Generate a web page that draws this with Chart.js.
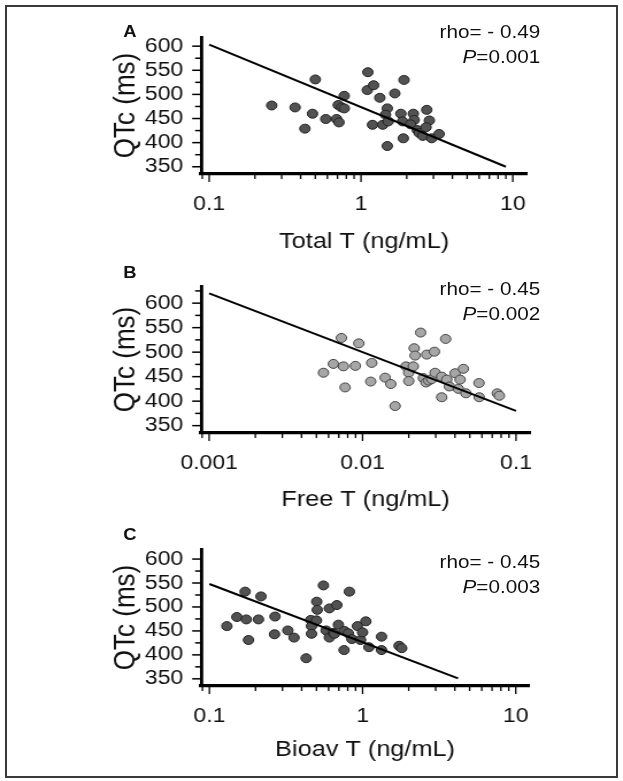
<!DOCTYPE html>
<html>
<head>
<meta charset="utf-8">
<script src="https://cdn.jsdelivr.net/npm/chart.js@4.4.1/dist/chart.umd.min.js"></script>
<style>
  body { margin: 0; background: #fff; width: 623px; height: 781px; overflow: hidden; position: relative; }
  #frame { position: absolute; left: 5px; top: 5px; width: 613px; height: 773px; box-sizing: border-box; border: 2px solid #3a3a3a; }
  #wrap { position: absolute; left: 0; top: 0; width: 542px; height: 781px; transform: scaleX(1.1494); transform-origin: 0 0;
          font-family: "Liberation Sans", Arial, sans-serif; color: #111; }
  #wrap canvas { position: absolute; left: 0; }
  .letter { position: absolute; font-weight: bold; font-size: 16px; transform: translate(-50%, -50%); }
  .stat { position: absolute; right: 72px; text-align: right; font-size: 18px; line-height: 25px; white-space: nowrap; }
</style>
</head>
<body>
<div id="frame"></div>
<div id="wrap">
  <canvas id="chartA" width="542" height="260" style="top:0px"></canvas>
  <canvas id="chartB" width="542" height="260" style="top:255px"></canvas>
  <canvas id="chartC" width="542" height="260" style="top:521px"></canvas>
  <div class="letter" style="left:113px; top:32px">A</div>
  <div class="letter" style="left:113px; top:273px">B</div>
  <div class="letter" style="left:113px; top:535px">C</div>
  <div class="stat" style="top:20px">rho= - 0.49<br><i>P</i>=0.001</div>
  <div class="stat" style="top:277px">rho= - 0.45<br><i>P</i>=0.002</div>
  <div class="stat" style="top:550px">rho= - 0.45<br><i>P</i>=0.003</div>
</div>
<script>
// horizontal stretch of the reference figure
const S = 1.1494;

// --- Panel A: Total T vs QTc
const totalT = [0.258, 0.368, 0.479, 0.427, 0.586, 0.69, 0.716, 0.708, 0.745, 0.776,
                0.775, 0.5, 1.10, 1.21, 1.33, 1.67, 1.92, 1.19, 1.39, 1.49,
                1.45, 1.51, 1.49, 1.83, 1.88, 1.9, 2.21, 2.24, 2.12, 2.35,
                2.42, 2.55, 2.71, 2.82, 2.68, 2.92, 3.27, 1.11];
const qtcA = [477, 473, 460, 429, 449, 449, 442, 478, 473, 471,
              497, 531, 509, 519, 493, 502, 530, 437, 437, 471,
              458, 444, 393, 460, 444, 409, 460, 447, 438, 426,
              420, 414, 468, 446, 432, 409, 418, 546];
const fitAx = [0.1, 9.0];
const fitAy = [603, 350];

// --- Panel B: Free T vs QTc
const freeT = [0.00556, 0.00645, 0.00728, 0.0075, 0.00769, 0.00898, 0.00945, 0.01147, 0.0113, 0.01403,
               0.01528, 0.0163, 0.0192, 0.01997, 0.02, 0.0214, 0.0217, 0.022, 0.0239, 0.0249,
               0.0259, 0.0262, 0.027, 0.0282, 0.0294, 0.0297, 0.0328, 0.0328, 0.0348, 0.0354,
               0.0368, 0.0401, 0.0432, 0.0454, 0.0421, 0.0472, 0.0574, 0.0576, 0.0755, 0.0779];
const qtcB = [458, 476, 529, 471, 428, 472, 518, 478, 440, 448,
              435, 390, 471, 458, 441, 471, 508, 493, 540, 447,
              438, 495, 442, 445, 501, 458, 408, 450, 527, 444,
              430, 457, 444, 466, 425, 416, 437, 408, 416, 411];
const fitBx = [0.001, 0.1];
const fitBy = [620, 380];

// --- Panel C: Bioav T vs QTc
const bioavT = [0.13, 0.151, 0.171, 0.174, 0.18, 0.209, 0.217, 0.268, 0.266, 0.325,
                0.357, 0.428, 0.459, 0.464, 0.464, 0.502, 0.506, 0.5, 0.555, 0.607,
                0.578, 0.607, 0.644, 0.679, 0.695, 0.655, 0.757, 0.76, 0.807, 0.82,
                0.851, 0.925, 0.97, 1.0, 1.05, 1.10, 1.33, 1.33, 1.73, 1.80];
const qtcC = [460, 479, 532, 474, 431, 474, 522, 480, 443, 451,
              436, 393, 473, 460, 444, 511, 494, 472, 545, 497,
              451, 436, 446, 504, 463, 444, 410, 450, 445, 532,
              433, 460, 431, 447, 470, 416, 438, 410, 419, 414];
const fitCx = [0.1, 4.2];
const fitCy = [548, 351];

// tick labels
const xTicksA = [0.1, 1, 10];
const xLabelsA = ['0.1', '1', '10'];
const xTicksB = [0.001, 0.01, 0.1];
const xLabelsB = ['0.001', '0.01', '0.1'];
const xTicksC = [0.1, 1, 10];
const xLabelsC = ['0.1', '1', '10'];
const yTicks = [350, 400, 450, 500, 550, 600];

const FONT = '"Liberation Sans", Arial, sans-serif';

// minor + major ticks for log axis
function logTicks(majors, min, max) {
  const out = [];
  const decades = [majors[0] / 10].concat(majors);
  decades.forEach(d => {
    for (let k = 1; k <= 9; k++) {
      const v = parseFloat((k * d).toPrecision(6));
      if (v >= min && v <= max) out.push(v);
    }
  });
  return out.sort((a, b) => a - b);
}
function linTicks(majors, min, max) {
  const out = [];
  for (let v = majors[0] - 25; v <= majors[majors.length - 1] + 25; v += 25) {
    if (v >= min && v <= max) out.push(v);
  }
  return out;
}

// short outward ticks, longer at labelled values
const tickMarks = {
  id: 'tickMarks',
  afterDraw(chart) {
    const ctx = chart.ctx, area = chart.chartArea;
    const xs = chart.scales.x, ys = chart.scales.y;
    ctx.save();
    ctx.strokeStyle = '#000';
    ctx.lineWidth = 1.3;
    xs.ticks.forEach(t => {
      const px = xs.getPixelForValue(t.value);
      ctx.beginPath();
      ctx.moveTo(px, area.bottom + 1);
      ctx.lineTo(px, area.bottom + (t.label ? 8 : 5));
      ctx.stroke();
    });
    ctx.lineWidth = 1.5;
    ys.ticks.forEach(t => {
      const py = ys.getPixelForValue(t.value);
      ctx.beginPath();
      ctx.moveTo(area.left, py);
      ctx.lineTo(area.left - (t.label ? 9 : 6) / S, py);
      ctx.stroke();
    });
    ctx.restore();
  }
};

function makePanel(id, xs, ys, fitX, fitY, xMajors, xLabels, xTitle, cfg) {
  const pts = xs.map((x, i) => ({ x: x, y: ys[i] }));
  const fit = fitX.map((x, i) => ({ x: x, y: fitY[i] }));
  const xt = logTicks(xMajors, cfg.xMin, cfg.xMax);
  const yt = linTicks(yTicks, cfg.yMin, cfg.yMax);

  new Chart(document.getElementById(id), {
    type: 'scatter',
    data: {
      datasets: [
        { data: fit, showLine: true, borderColor: '#000', borderWidth: 2, pointRadius: 0, fill: false },
        { data: pts, pointRadius: 4.5, pointBackgroundColor: cfg.fill, pointBorderColor: cfg.stroke, pointBorderWidth: 1 }
      ]
    },
    options: {
      responsive: false,
      animation: false,
      layout: { padding: { left: 0, right: cfg.padRight, top: cfg.padTop, bottom: cfg.padBottom } },
      plugins: { legend: { display: false }, tooltip: { enabled: false } },
      scales: {
        x: {
          type: 'logarithmic',
          min: cfg.xMin,
          max: cfg.xMax,
          afterBuildTicks: axis => { axis.ticks = xt.map(v => ({ value: v })); },
          afterFit: axis => { axis.height = 82; },
          grid: { display: true, drawOnChartArea: false, drawTicks: false },
          border: { display: true, color: '#000', width: 3.2 },
          ticks: {
            autoSkip: false, maxRotation: 0, padding: 18,
            color: '#111', font: { family: FONT, size: 20 },
            callback: v => {
              const i = xMajors.findIndex(m => Math.abs(m - v) / m < 1e-6);
              return i >= 0 ? xLabels[i] : '';
            }
          },
          title: { display: true, text: xTitle, color: '#111', font: { family: FONT, size: 22 },
                   padding: { top: 0, bottom: cfg.titlePad } }
        },
        y: {
          min: cfg.yMin,
          max: cfg.yMax,
          afterBuildTicks: axis => { axis.ticks = yt.map(v => ({ value: v })); },
          afterFit: axis => { axis.width = 175; },
          grid: { display: true, drawOnChartArea: false, drawTicks: false },
          border: { display: true, color: '#000', width: 2.8 },
          ticks: {
            autoSkip: false, padding: 15.6,
            color: '#111', font: { family: FONT, size: 20 },
            callback: v => (yTicks.includes(v) ? String(v) : '')
          },
          title: { display: true, text: 'QTc (ms)', color: '#111', font: { family: FONT, size: 26 },
                   padding: { top: 94, bottom: 0 } }
        }
      }
    },
    plugins: [tickMarks]
  });
}

makePanel('chartA', totalT, qtcA, fitAx, fitAy, xTicksA, xLabelsA, 'Total T (ng/mL)', {
  xMin: 0.0885, xMax: 12.4, yMin: 335, yMax: 619,
  padTop: 37, padBottom: 4, padRight: 83.5, titlePad: 0.8,
  fill: '#525252', stroke: '#222'
});
makePanel('chartB', freeT, qtcB, fitBx, fitBy, xTicksB, xLabelsB, 'Free T (ng/mL)', {
  xMin: 0.000887, xMax: 0.1234, yMin: 335, yMax: 635,
  padTop: 31, padBottom: 0, padRight: 80.9, titlePad: 1.8,
  fill: '#a6a6a6', stroke: '#444'
});
makePanel('chartC', bioavT, qtcC, fitCx, fitCy, xTicksC, xLabelsC, 'Bioav T (ng/mL)', {
  xMin: 0.0883, xMax: 12.2, yMin: 335, yMax: 621,
  padTop: 28, padBottom: 13, padRight: 81.8, titlePad: 4.8,
  fill: '#525252', stroke: '#222'
});
</script>
</body>
</html>
